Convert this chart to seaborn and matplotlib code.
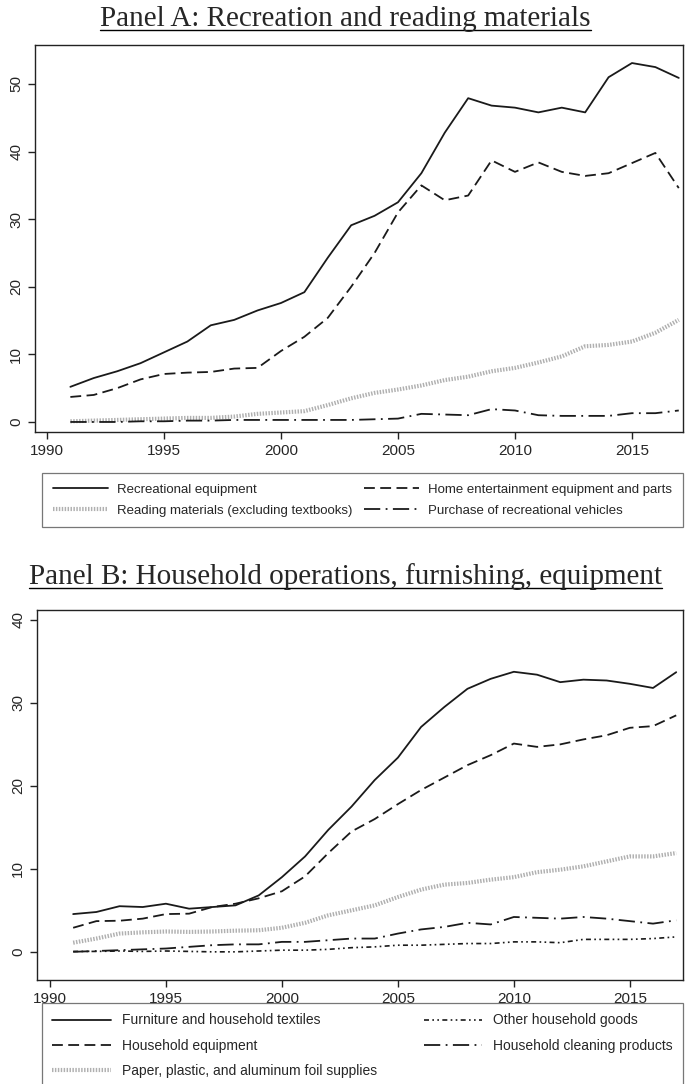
import matplotlib
matplotlib.use('Agg')
import matplotlib.pyplot as plt
from matplotlib.lines import Line2D
import seaborn as sns
import pandas as pd

years = list(range(1991, 2018))

# Panel A
recreational_equipment = [5.2, 6.5, 7.5, 8.7, 10.3, 11.9, 14.3, 15.1, 16.5, 17.6, 19.2, 24.3, 29.1, 30.5,
                          32.5, 36.8, 42.8, 47.9, 46.8, 46.5, 45.8, 46.5, 45.8, 51.0, 53.1, 52.5, 50.9]
home_entertainment = [3.7, 4.0, 5.0, 6.3, 7.1, 7.3, 7.4, 7.9, 8.0, 10.5, 12.6, 15.4, 20.0, 25.0,
                      31.0, 35.0, 32.8, 33.5, 38.7, 37.0, 38.4, 37.0, 36.4, 36.8, 38.3, 39.8, 34.6]
reading_materials = [0.1, 0.2, 0.3, 0.4, 0.5, 0.6, 0.6, 0.8, 1.2, 1.4, 1.6, 2.5, 3.5, 4.3,
                     4.8, 5.4, 6.2, 6.7, 7.5, 8.0, 8.8, 9.7, 11.2, 11.4, 11.9, 13.2, 15.1]
recreational_vehicles = [0.0, 0.0, 0.0, 0.1, 0.1, 0.2, 0.2, 0.3, 0.3, 0.3, 0.3, 0.3, 0.3, 0.4,
                         0.5, 1.2, 1.1, 1.0, 1.9, 1.7, 1.0, 0.9, 0.9, 0.9, 1.3, 1.3, 1.7]

# Panel B
furniture = [4.55, 4.8, 5.5, 5.4, 5.8, 5.2, 5.4, 5.6, 6.8, 9.0, 11.5, 14.7, 17.5, 20.7,
             23.4, 27.1, 29.5, 31.7, 32.9, 33.75, 33.4, 32.5, 32.8, 32.7, 32.3, 31.8, 33.7]
household_equipment = [2.9, 3.7, 3.75, 4.0, 4.55, 4.6, 5.4, 5.8, 6.45, 7.3, 9.1, 11.9, 14.5, 16.0,
                       17.8, 19.5, 21.0, 22.5, 23.7, 25.1, 24.7, 25.0, 25.6, 26.1, 27.0, 27.2, 28.5]
paper_supplies = [1.1, 1.6, 2.2, 2.35, 2.45, 2.4, 2.45, 2.55, 2.6, 2.9, 3.5, 4.4, 5.0, 5.6,
                  6.6, 7.5, 8.1, 8.3, 8.7, 9.0, 9.6, 9.9, 10.3, 10.9, 11.5, 11.5, 11.9]
other_goods = [0.05, 0.05, 0.1, 0.05, 0.1, 0.05, 0.0, 0.0, 0.1, 0.2, 0.2, 0.3, 0.5, 0.6,
               0.8, 0.8, 0.9, 1.0, 1.0, 1.2, 1.2, 1.1, 1.5, 1.5, 1.5, 1.6, 1.8]
cleaning_products = [0.0, 0.1, 0.2, 0.3, 0.4, 0.6, 0.8, 0.9, 0.9, 1.2, 1.2, 1.4, 1.6, 1.6,
                     2.2, 2.7, 3.0, 3.5, 3.3, 4.2, 4.1, 4.0, 4.2, 4.0, 3.7, 3.4, 3.8]

sns.set_style('white')
plt.rcParams['font.family'] = ['Liberation Sans', 'DejaVu Sans']

dark = '#1a1a1a'
grey = '#b0b0b0'
s_solid = dict(color=dark, lw=1.3, linestyle='-')
s_dash = dict(color=dark, lw=1.3, linestyle=(0, (6, 3)))
s_dot = dict(color=grey, lw=3.0, linestyle=(0, (0.35, 0.35)))
s_lddot = dict(color=dark, lw=1.3, linestyle=(0, (9, 3, 1, 3)))
s_ddot = dict(color=dark, lw=1.2, linestyle=(0, (3, 2, 1, 2, 1, 2)))

fig = plt.figure(figsize=(6.91, 10.84), dpi=100)
axA = fig.add_axes([0.0507, 0.6015, 0.9377, 0.357])
axB = fig.add_axes([0.0535, 0.0959, 0.9345, 0.3414])

seriesA = [('Recreational equipment', recreational_equipment, s_solid),
           ('Reading materials (excluding textbooks)', reading_materials, s_dot),
           ('Home entertainment equipment and parts', home_entertainment, s_dash),
           ('Purchase of recreational vehicles', recreational_vehicles, s_lddot)]
seriesB = [('Furniture and household textiles', furniture, s_solid),
           ('Household equipment', household_equipment, s_dash),
           ('Paper, plastic, and aluminum foil supplies', paper_supplies, s_dot),
           ('Other household goods', other_goods, s_ddot),
           ('Household cleaning products', cleaning_products, s_lddot)]


def draw(ax, series):
    handles = []
    for name, vals, st in series:
        df = pd.DataFrame({'year': years, 'value': vals})
        sns.lineplot(data=df, x='year', y='value', ax=ax, **st)
        handles.append(Line2D([], [], label=name, **st))
    ax.set_xlabel('')
    ax.set_ylabel('')
    ax.set_xticks([1990, 1995, 2000, 2005, 2010, 2015])
    for sp in ax.spines.values():
        sp.set_color('#222222')
        sp.set_linewidth(1.0)
    ax.tick_params(axis='both', direction='out', length=5, width=1, color='#222222',
                   labelsize=11, left=True, bottom=True)
    return handles


hA = draw(axA, seriesA)
axA.set_xlim(1989.49, 2017.18)
axA.set_ylim(-1.48, 55.77)
axA.set_yticks([0, 10, 20, 30, 40, 50])

hB = draw(axB, seriesB)
axB.set_xlim(1989.44, 2017.28)
axB.set_ylim(-3.4, 41.2)
axB.set_yticks([0, 10, 20, 30, 40])

for ax in (axA, axB):
    for lab in ax.get_yticklabels():
        lab.set_rotation(90)
        lab.set_va('center')

legA = fig.legend(handles=hA, ncol=2, loc='upper left',
                  bbox_to_anchor=(42 / 691, 1 - 530 / 1084, 641 / 691, 57 / 1084),
                  mode='expand', fontsize=9.5, frameon=True, fancybox=False, edgecolor='#555555',
                  handlelength=4.2, handletextpad=0.7, borderaxespad=0, borderpad=0.8,
                  labelspacing=0.65, columnspacing=0.5)
legB = fig.legend(handles=hB, ncol=2, loc='upper left',
                  bbox_to_anchor=(42 / 691, 1 - 1084 / 1084, 641 / 691, 81 / 1084),
                  mode='expand', fontsize=10, frameon=True, fancybox=False, edgecolor='#555555',
                  handlelength=4.2, handletextpad=0.8, borderaxespad=0, borderpad=0.75,
                  labelspacing=0.8, columnspacing=0.5)
for leg in (legA, legB):
    leg.get_frame().set_linewidth(0.9)

tA = fig.text(0.5, 1 - 19 / 1084, 'Panel A: Recreation and reading materials', ha='center', va='center',
              fontsize=21, family='Liberation Serif')
tB = fig.text(0.5, 1 - 577 / 1084, 'Panel B: Household operations, furnishing, equipment', ha='center',
              va='center', fontsize=21, family='Liberation Serif')

fig.canvas.draw()
inv = fig.transFigure.inverted()
for t in (tA, tB):
    bb = t.get_window_extent()
    (x0, y0), (x1, y1) = inv.transform([(bb.x0, bb.y0), (bb.x1, bb.y1)])
    fig.add_artist(Line2D([x0, x1], [y0 + 0.002, y0 + 0.002], color='black', lw=1.0, transform=fig.transFigure))

fig.savefig('out.png', dpi=100)
